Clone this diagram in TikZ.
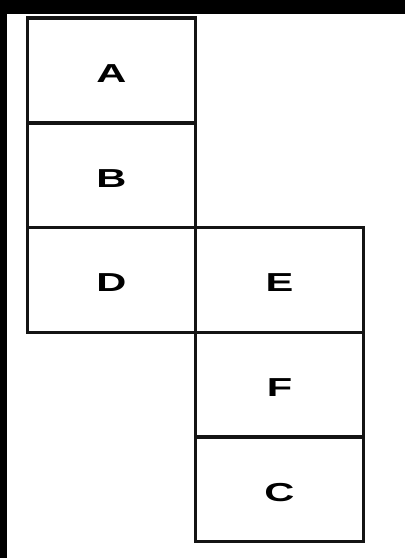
\documentclass[tikz,border=0pt]{standalone}
\usepackage{fontspec}
\setmainfont{Liberation Sans}
\usetikzlibrary{positioning}
\definecolor{ink}{HTML}{141414}
\tikzset{
  cell/.style={draw=ink,line width=3.4pt,minimum width=168pt,minimum height=104.7pt,
               inner sep=0pt,outer sep=0pt,text height=23.6pt,text depth=0pt,
               font=\fontsize{26}{26}\selectfont\bfseries},
  frame/.style={fill=black,draw=none}
}
\newcommand{\widelbl}[1]{\scalebox{1.6}[1]{#1}}

\begin{document}
\begin{tikzpicture}[x=1pt,y=-1pt]
    \path[use as bounding box] (0,0) rectangle (405,558);
    \fill[white] (0,0) rectangle (405,558);
    \fill[frame] (0,0) rectangle (405,14);
    \fill[frame] (0,0) rectangle (7,558);

    \node[cell] (A) at (111.5,70.5) {\widelbl{A}};
    \node[cell,below=0pt of A] (B) {\widelbl{B}};
    \node[cell,below=0pt of B] (D) {\widelbl{D}};
    \node[cell,right=0pt of D] (E) {\widelbl{E}};
    \node[cell,below=0pt of E] (F) {\widelbl{F}};
    \node[cell,below=0pt of F] (C) {\widelbl{C}};
  \end{tikzpicture}
\end{document}
